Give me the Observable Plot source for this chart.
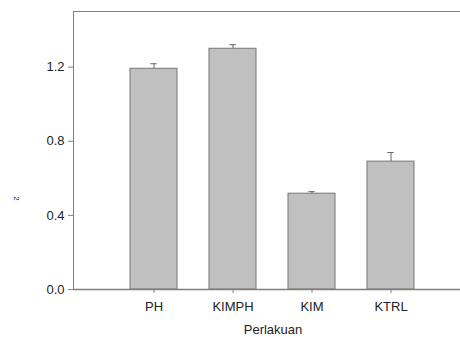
<!DOCTYPE html>
<html>
<head>
<meta charset="utf-8">
<script src="https://cdn.jsdelivr.net/npm/d3@7"></script>
<script src="https://cdn.jsdelivr.net/npm/@observablehq/plot@0.6"></script>
<style>
html, body { margin: 0; padding: 0; background: white; overflow: hidden; }
</style>
</head>
<body>
<div id="chart"></div>
<script>
const categories = ["PH", "KIMPH", "KIM", "KTRL"];
const means = [1.191, 1.299, 0.517, 0.690];
const errors = [0.027, 0.022, 0.011, 0.049];
const yTicks = [0.0, 0.4, 0.8, 1.2];

const data = categories.map((c, i) => ({cat: c, mean: means[i], top: means[i] + errors[i]}));

const axisColor = "#808080";
const fontFam = "'Liberation Sans', Arial, sans-serif";

const chart = Plot.plot({
  width: 460,
  height: 337,
  marginLeft: 73,
  marginRight: 0,
  marginTop: 11,
  marginBottom: 48,
  style: {fontFamily: fontFam, fontSize: "13px", background: "white", color: "#222"},
  x: {domain: categories, range: [113.25, 431.25], paddingInner: 0.4, paddingOuter: 0.2, align: 0.5},
  y: {domain: [0, 1.5]},
  marks: [
    Plot.barY(data, {x: "cat", y: "mean", fill: "#c0c0c0", stroke: "#777777", strokeWidth: 1}),
    Plot.ruleX(data, {x: "cat", y1: "mean", y2: "top", stroke: "#666666", strokeWidth: 1}),
    Plot.tickY(data, {x: "cat", y: "top", stroke: "#666666", strokeWidth: 1, insetLeft: 20.3, insetRight: 20.3}),
    Plot.ruleY([0], {stroke: axisColor, strokeWidth: 1.5}),
    Plot.ruleY([1.5], {stroke: axisColor, strokeWidth: 1}),
    Plot.frame({anchor: "left", stroke: axisColor, strokeWidth: 1}),
    Plot.axisY({ticks: yTicks, tickFormat: d3.format(".1f"), tickSize: 5, tickPadding: 4, stroke: axisColor, fill: "#222", label: null, fontSize: 13}),
    Plot.axisX({tickSize: 4, tickPadding: 8, stroke: axisColor, fill: "#222", label: null, fontSize: 13}),
    Plot.text(["Perlakuan"], {frameAnchor: "bottom", lineAnchor: "middle", dy: 40.5, dx: 6, text: d => d, fontSize: 13, fill: "#222"}),
    Plot.text(["2"], {frameAnchor: "left", y: 0.503, dx: -57, text: d => d, rotate: 90, fontSize: 8, fill: "#222"})
  ]
});
document.getElementById("chart").appendChild(chart);
</script>
</body>
</html>
